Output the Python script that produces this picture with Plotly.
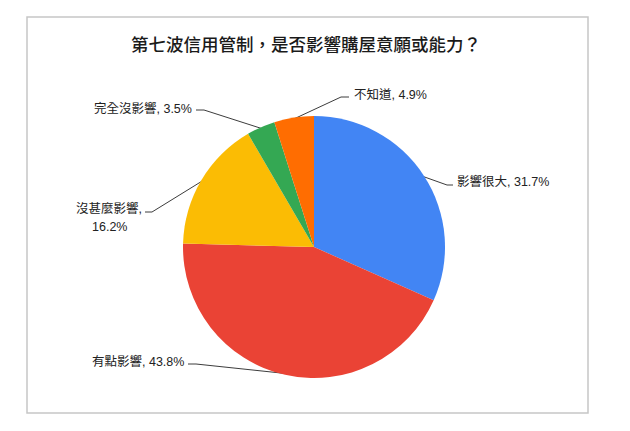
import math
import plotly.graph_objects as go

# ---- data ----
categories = ["影響很大", "有點影響", "沒甚麼影響", "完全沒影響", "不知道"]
values = [31.7, 43.8, 16.2, 3.5, 4.9]
colors = ["#4285F4", "#EA4335", "#FBBC04", "#34A853", "#FF6D01"]
title_text = "第七波信用管制，是否影響購屋意願或能力？"

# ---- layout constants (reference-image pixels) ----
OFF = 8                      # default body margin of the html page
W, H = 630 - OFF, 431 - OFF  # figure size so the page fits the window
CX, CY, R = 314, 247, 131
FONT = "Liberation Sans, Arial, Noto Sans CJK TC, sans-serif"

# label placement: (text_x, text_y, xanchor, elbow_start_x, elbow_end_x, line_y, wrap)
label_layout = [
    (455, 181, "left", 453, 447, 185, False),
    (186, 361, "right", 188, 196, 364, False),
    (109, 208, "center", 145, 152, 212, True),
    (194, 108, "right", 196, 204, 110, False),
    (352, 95, "left", 349, 341, 97, False),
]
WRAP_GAP = 19


def px(x):
    return x - OFF


fig = go.Figure()

fig.add_trace(go.Pie(
    labels=categories,
    values=values,
    marker=dict(colors=colors, line=dict(width=0)),
    sort=False,
    direction="clockwise",
    rotation=0,
    textinfo="none",
    hoverinfo="label+percent",
    showlegend=False,
    domain=dict(x=[px(CX - R) / W, px(CX + R) / W],
                y=[(H - px(CY) - R) / H, (H - px(CY) + R) / H]),
))

# leader lines computed from slice mid-angles
total = sum(values)
cum = 0.0
annotations = []
for i, (cat, v) in enumerate(zip(categories, values)):
    mid = (cum + v / 2) / total
    cum += v
    ang = 2 * math.pi * mid
    ex = CX + R * 0.99 * math.sin(ang)
    ey = CY - R * 0.99 * math.cos(ang)
    tx, ty, xa, sx, bx, ly, wrap = label_layout[i]
    fig.add_trace(go.Scatter(
        x=[px(sx), px(bx), px(ex)], y=[px(ly), px(ly), px(ey)], mode="lines",
        line=dict(color="#3c3c3c", width=1),
        hoverinfo="skip", showlegend=False, xaxis="x", yaxis="y",
    ))
    lines = [f"{cat},", f"{v}%"] if wrap else [f"{cat}, {v}%"]
    for k, t in enumerate(lines):
        annotations.append(dict(
            x=px(tx), y=px(ty + k * WRAP_GAP), xref="x", yref="y", text=t,
            showarrow=False, xanchor=xa, yanchor="middle",
            font=dict(family=FONT, size=12.5, color="#222222"),
        ))

annotations.append(dict(
    x=px(305.5), y=px(45), xref="x", yref="y",
    text=title_text, showarrow=False,
    xanchor="center", yanchor="middle",
    font=dict(family=FONT, size=17.5, color="#1a1a1a", weight=500),
))

fig.update_layout(
    width=W, height=H, autosize=False,
    margin=dict(l=0, r=0, t=0, b=0),
    paper_bgcolor="white", plot_bgcolor="rgba(0,0,0,0)",
    xaxis=dict(range=[0, W], visible=False, fixedrange=True, domain=[0, 1]),
    yaxis=dict(range=[H, 0], visible=False, fixedrange=True, domain=[0, 1]),
    annotations=annotations,
    shapes=[dict(type="rect", xref="x", yref="y",
                 x0=px(27), x1=px(588), y0=px(17), y1=px(413),
                 line=dict(color="#c6c6c6", width=1.5), layer="below")],
    showlegend=False,
)

fig.write_html("out.html")
